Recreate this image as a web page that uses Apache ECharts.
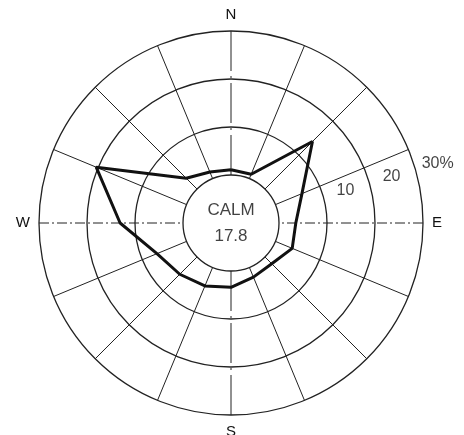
<!DOCTYPE html>
<html>
<head>
<meta charset="utf-8">
<script src="https://cdn.jsdelivr.net/npm/echarts@6/dist/echarts.min.js"></script>
<style>
    html, body { margin: 0; padding: 0; background: #fff; }
    #windRose { width: 464px; height: 435px; }
</style>
</head>
<body>
<div id="windRose"></div>
<script>
// 16方位
var dirs = ['N', 'NNE', 'NE', 'ENE', 'E', 'ESE', 'SE', 'SSE', 'S', 'SSW', 'SW', 'WSW', 'W', 'WNW', 'NW', 'NNW'];
// 出現頻度(%)
var freq = [1.1, 1.0, 14.0, 6.0, 3.5, 3.8, 2.0, 2.2, 3.4, 4.2, 5.1, 6.7, 13.1, 20.4, 3.2, 1.5];
// 同心円の目盛
var rings = [10, 20, 30];
var ringLabels = ['10', '20', '30%'];
// 静穏率
var calmName = 'CALM';
var calmValue = 17.8;

var step = 360 / dirs.length;
var lineColor = '#222';
var textColor = '#111';
var font = '"Liberation Sans", Arial, sans-serif';

var chart = echarts.init(document.getElementById('windRose'));

// 折れ線データ (最後に先頭を繰り返して閉じる)
var roseData = dirs.map(function (d, i) {
    return [freq[i], i * step];
});
roseData.push([freq[0], 360]);

// 放射線データ
var spokeData = dirs.map(function (d, i) {
    return [rings[rings.length - 1], i * step, i % 4 === 0 ? 1 : 0];
});

// 目盛ラベル
var ringLabelData = rings.map(function (r, i) {
    return {value: [r + 4.8, 74], name: ringLabels[i]};
});

var option = {
    animation: false,
    backgroundColor: '#fff',
    polar: {
        center: [231, 223],
        radius: 192
    },
    angleAxis: {
        type: 'value',
        min: 0,
        max: 360,
        interval: 90,
        startAngle: 90,
        clockwise: true,
        axisLine: {show: false},
        axisTick: {show: false},
        splitLine: {show: false},
        axisLabel: {
            margin: 9,
            color: textColor,
            fontSize: 15,
            fontFamily: font,
            formatter: function (v) {
                return dirs[Math.round(v / step) % dirs.length];
            }
        }
    },
    radiusAxis: {
        type: 'value',
        min: -10,
        max: 30,
        interval: 10,
        axisLine: {show: false},
        axisTick: {show: false},
        axisLabel: {show: false},
        splitLine: {
            show: true,
            lineStyle: {color: lineColor, width: 1.3}
        }
    },
    series: [
        // 放射線 (静穏円から外周まで)
        {
            type: 'custom',
            coordinateSystem: 'polar',
            silent: true,
            data: spokeData,
            renderItem: function (params, api) {
                var a = api.value(1);
                var p0 = api.coord([0, a]);
                var p1 = api.coord([api.value(0), a]);
                var cardinal = api.value(2) === 1;
                var dash = null;
                if (cardinal) {
                    dash = (a % 180 === 0) ? [40, 5, 2, 5] : [10, 3, 2, 3];
                }
                return {
                    type: 'line',
                    shape: {x1: p1[0], y1: p1[1], x2: p0[0], y2: p0[1]},
                    style: {stroke: lineColor, lineWidth: 1, lineDash: dash}
                };
            }
        },
        // 風配図
        {
            type: 'line',
            coordinateSystem: 'polar',
            data: roseData,
            showSymbol: false,
            silent: true,
            lineStyle: {color: '#111', width: 3}
        },
        // 目盛ラベル
        {
            type: 'scatter',
            coordinateSystem: 'polar',
            clip: false,
            silent: true,
            symbolSize: 0,
            data: ringLabelData,
            label: {
                show: true,
                position: 'inside',
                color: textColor,
                fontSize: 16,
                fontFamily: font,
                formatter: function (p) {
                    return p.name;
                }
            }
        },
        // 静穏
        {
            type: 'scatter',
            coordinateSystem: 'polar',
            clip: false,
            silent: true,
            symbolSize: 0,
            data: [[-10, 0]],
            label: {
                show: true,
                position: 'inside',
                color: textColor,
                fontSize: 17,
                fontFamily: font,
                lineHeight: 26,
                formatter: calmName + '\n' + calmValue.toFixed(1)
            }
        }
    ]
};

chart.setOption(option);
</script>
</body>
</html>
